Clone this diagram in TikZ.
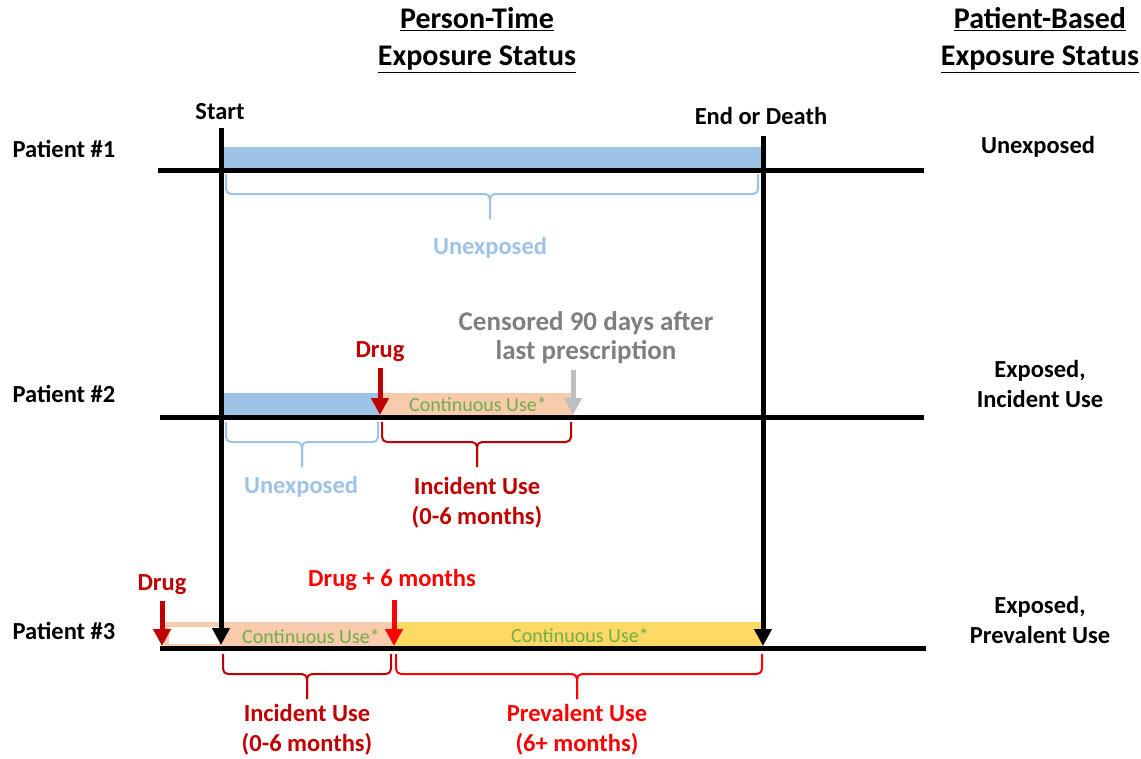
\documentclass[tikz,border=0pt]{standalone}
\usepackage{fontspec}
\setmainfont{Carlito}
\usetikzlibrary{calc,arrows.meta}

\definecolor{unexpblue}{HTML}{9DC3E6}
\definecolor{contpeach}{HTML}{F8CBAD}
\definecolor{prevyellow}{HTML}{FFD966}
\definecolor{usegreen}{HTML}{70AD47}
\definecolor{incred}{HTML}{C00000}
\definecolor{prevred}{HTML}{FF0000}
\definecolor{censgrey}{HTML}{BFBFBF}
\definecolor{censtext}{HTML}{7F7F7F}

% curly brace under a time line: x1, x2, centre x, top y, colour
\newcommand{\timebrace}[5]{%
  \draw[#5, line width=2pt, rounded corners=5pt]
    (#1,#4) -- (#1,#4+20) -- (#3,#4+20) -- (#3,#4+45);
  \draw[#5, line width=2pt, rounded corners=5pt]
    (#2,#4) -- (#2,#4+20) -- (#3,#4+20) -- (#3,#4+45);
}

\begin{document}
\begin{tikzpicture}[x=1pt,y=-1pt,
    lbl/.style={font=\fontsize{24.5}{30}\selectfont\bfseries, align=center},
    head/.style={font=\fontsize{30}{37}\selectfont\bfseries, align=center},
    contlbl/.style={font=\fontsize{20}{22}\selectfont, text=usegreen},
    timeline/.style={line width=5pt},
    marker/.style={line width=5pt, -{Triangle[width=17pt,length=17pt]}}]
    \useasboundingbox (0,0) rectangle (1141,758);

    % headings
    \node[head] (pthead) at (477,40) {\underline{Person-Time}\\\underline{Exposure Status}};
    \node[head] (pbhead) at (1040,40) {\underline{Patient-Based}\\\underline{Exposure Status}};

    % patient labels
    \node[lbl] (pat1) at (64,149) {Patient \#1};
    \node[lbl] (pat2) at (64,394) {Patient \#2};
    \node[lbl] (pat3) at (64,631) {Patient \#3};

    % patient-based status
    \node[lbl] (stat1) at (1038,147) {Unexposed};
    \node[lbl] (stat2) at (1040,384) {Exposed,\\Incident Use};
    \node[lbl] (stat3) at (1040,620) {Exposed,\\Prevalent Use};

    % bars
    \fill[unexpblue] (221,147) rectangle (763,168);
    \fill[unexpblue] (221,393) rectangle (380,415);
    \fill[contpeach] (380,393) rectangle (573,415);
    \draw[contpeach, line width=5pt, fill=white] (166,624) rectangle (221,646);
    \fill[contpeach] (221,622) rectangle (394,646);
    \fill[prevyellow] (394,622) rectangle (763,646);
    \node[contlbl] (cont2) at (478,404) {Continuous Use*};
    \node[contlbl] (cont3a) at (311,636) {Continuous Use*};
    \node[contlbl] (cont3b) at (580,635) {Continuous Use*};

    % time lines
    \coordinate (l1a) at (158,170);
    \coordinate (l1b) at (924,170);
    \coordinate (l2a) at (160,417);
    \coordinate (l2b) at (924,417);
    \coordinate (l3a) at (160,648);
    \coordinate (l3b) at (926,648);
    \draw[timeline] (l1a) -- (l1b);
    \draw[timeline] (l2a) -- (l2b);
    \draw[timeline] (l3a) -- (l3b);

    % start and end
    \node[lbl] (start) at (220,112) {Start};
    \node[lbl] (end) at (761,116) {End or Death};
    \coordinate (starttop) at (221,128);
    \coordinate (starttip) at (221,645);
    \coordinate (endtop) at (763,136);
    \coordinate (endtip) at (763,646);
    \draw[marker] (starttop) -- (starttip);
    \draw[marker] (endtop) -- (endtip);

    % patient #2 markers
    \node[lbl, text=incred] (drug2) at (380,352) {Drug};
    \coordinate (drug2top) at (380,368);
    \coordinate (drug2tip) at (380,415);
    \draw[marker, incred] (drug2top) -- (drug2tip);
    \node[lbl, text=censtext, font=\fontsize{27}{29}\selectfont\bfseries] (cens) at (586,338) {Censored 90 days after\\last prescription};
    \coordinate (cens2top) at (573,370);
    \coordinate (cens2tip) at (573,415);
    \draw[marker, censgrey] (cens2top) -- (cens2tip);

    % patient #3 markers
    \node[lbl, text=incred] (drug3) at (162,585) {Drug};
    \coordinate (drug3top) at (162,601);
    \coordinate (drug3tip) at (162,646);
    \draw[marker, incred] (drug3top) -- (drug3tip);
    \node[lbl, text=prevred] (drug6) at (392,580) {Drug + 6 months};
    \coordinate (drug6top) at (394,600);
    \coordinate (drug6tip) at (394,646);
    \draw[marker, prevred] (drug6top) -- (drug6tip);

    % braces and period labels
    \timebrace{226}{758}{490}{174}{unexpblue}
    \node[lbl, text=unexpblue] (unexp1) at (490,248) {Unexposed};
    \timebrace{226}{378}{302}{422}{unexpblue}
    \node[lbl, text=unexpblue] (unexp2) at (301,487) {Unexposed};
    \timebrace{382}{571}{477}{422}{incred}
    \node[lbl, text=incred] (inc2) at (477,503) {Incident Use\\(0-6 months)};
    \timebrace{223}{391}{307}{654}{incred}
    \node[lbl, text=incred] (inc3) at (307,730) {Incident Use\\(0-6 months)};
    \timebrace{396}{762}{577}{654}{prevred}
    \node[lbl, text=prevred] (prev3) at (577,730) {Prevalent Use\\(6+ months)};
\end{tikzpicture}
\end{document}
